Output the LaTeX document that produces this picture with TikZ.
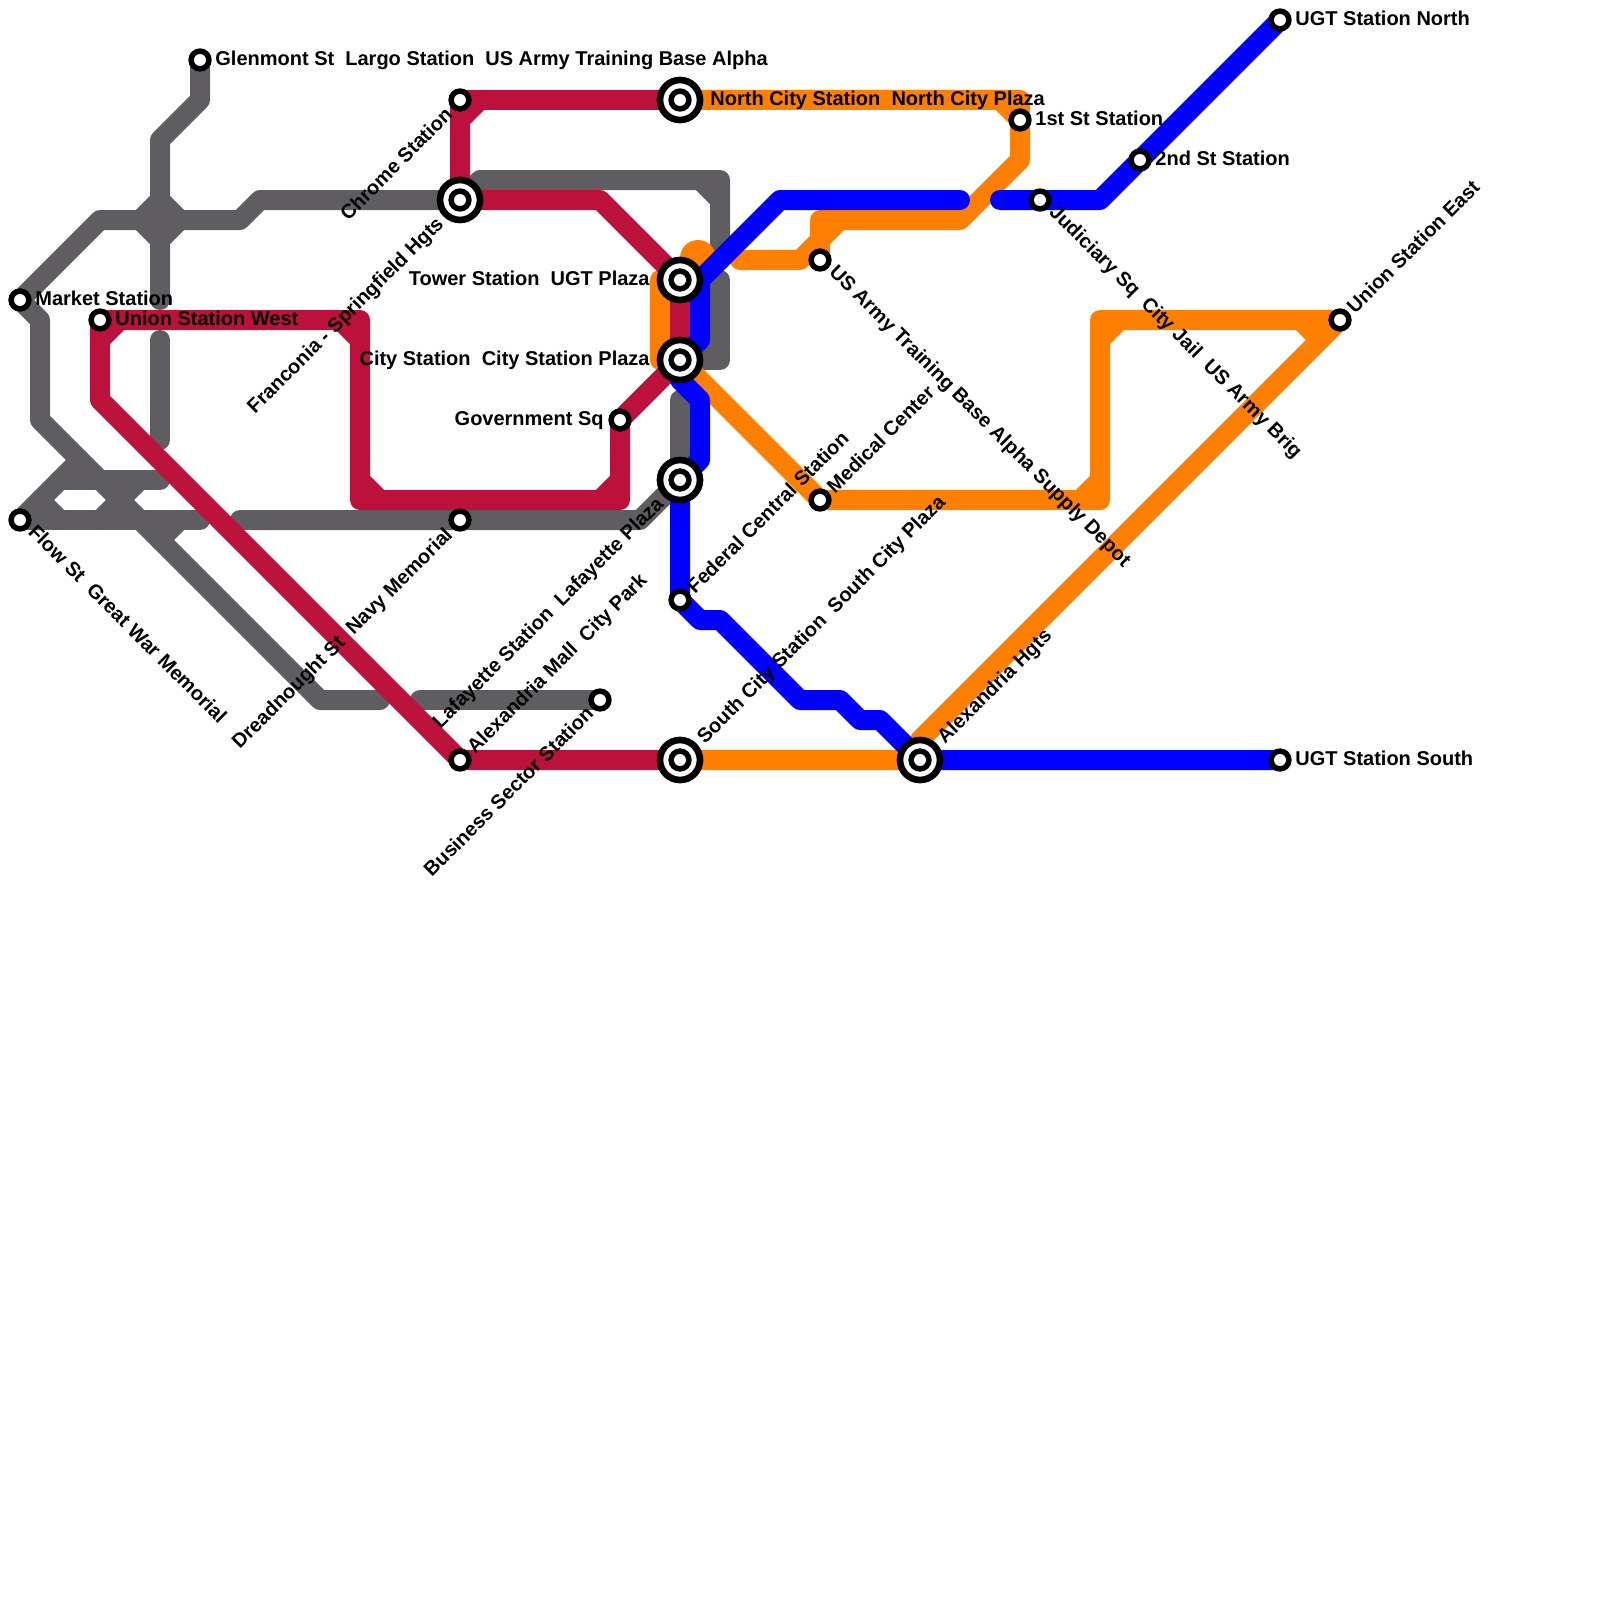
\documentclass[tikz,border=0pt]{standalone}
\usepackage{fontspec}
\setmainfont{Liberation Sans}
\usetikzlibrary{backgrounds}
\definecolor{cgray}{RGB}{95,93,98}
\definecolor{cred}{RGB}{188,17,58}
\definecolor{corange}{RGB}{255,128,0}
\definecolor{cblue}{RGB}{0,0,255}
\tikzset{
  metro/.style={line width=10pt,line cap=round,line join=round},
  grayline/.style={metro,draw=cgray},
  redline/.style={metro,draw=cred},
  orangeline/.style={metro,draw=corange},
  blueline/.style={metro,draw=cblue},
  smallst/.style={circle,draw=black,fill=white,line width=2.75pt,minimum size=8.9pt,inner sep=0pt},
  bigst/.style={circle,draw=black,fill=white,line width=3.33pt,minimum size=20pt,inner sep=0pt,
    path picture={\draw[black,line width=2.75pt,fill=white] (path picture bounding box.center) circle (4.45pt);}},
  lab/.style={inner sep=0pt,font=\fontsize{10}{11}\selectfont\bfseries,text height=6.9pt,text depth=0pt},
  labr/.style={lab,anchor=west},
  labl/.style={lab,anchor=east},
  labup/.style={lab,anchor=west,rotate=45},
  labupl/.style={lab,anchor=east,rotate=45},
  labdn/.style={lab,anchor=west,rotate=-45},
}
\begin{document}
\begin{tikzpicture}[x=0.5pt,y=-0.5pt]
\useasboundingbox (0,0) rectangle (1600,1600);
% stations
\node[smallst] (glenmont) at (200,60) {};
\node[smallst] (market) at (20,300) {};
\node[smallst] (unionw) at (100,320) {};
\node[smallst] (flow) at (20,520) {};
\node[smallst] (chrome) at (460,100) {};
\node[smallst] (navy) at (460,520) {};
\node[smallst] (gov) at (620,420) {};
\node[smallst] (federal) at (680,600) {};
\node[smallst] (citypark) at (600,700) {};
\node[smallst] (almall) at (460,760) {};
\node[smallst] (usarmy) at (820,260) {};
\node[smallst] (medical) at (820,500) {};
\node[smallst] (first) at (1020,120) {};
\node[smallst] (second) at (1140,160) {};
\node[smallst] (judiciary) at (1040,200) {};
\node[smallst] (ugtn) at (1280,20) {};
\node[smallst] (ugts) at (1280,760) {};
\node[smallst] (unione) at (1340,320) {};
\node[bigst] (northcity) at (680,100) {};
\node[bigst] (franconia) at (460,200) {};
\node[bigst] (ugtplaza) at (680,280) {};
\node[bigst] (cityplaza) at (680,360) {};
\node[bigst] (lafayette) at (680,480) {};
\node[bigst] (southcity) at (680,760) {};
\node[bigst] (alexhgts) at (920,760) {};
% labels
\node[labr] (lglenmont) at (215,59) {Glenmont St~~Largo Station~~US Army Training Base Alpha};
\node[labr] (lmarket) at (35,299) {Market Station};
\node[labr] (lunionw) at (115,319) {Union Station West};
\node[labdn] (lflow) at (32,528) {Flow St~~Great War Memorial};
\node[labupl] (lchrome) at (449,111) {Chrome Station};
\node[labupl] (lfranconia) at (440,220) {Franconia - Springfield Hgts};
\node[labl] (lugt) at (650,279) {Tower Station~~UGT Plaza};
\node[labl] (lcity) at (650,359) {City Station~~City Station Plaza};
\node[labl] (lgov) at (604,419) {Government Sq};
\node[labupl] (lnavy) at (449,531) {Dreadnought St~~Navy Memorial};
\node[labupl] (llaf) at (660,500) {Lafayette Station~~Lafayette Plaza};
\node[labup] (lfed) at (690,590) {Federal Central Station};
\node[labup] (lmed) at (830,490) {Medical Center};
\node[labdn] (lusarmy) at (833,268) {US Army Training Base Alpha Supply Depot};
\node[labdn] (ljud) at (1053,208) {Judiciary Sq~~City Jail~~US Army Brig};
\node[labr] (lfirst) at (1035,119) {1st St Station};
\node[labr] (lsecond) at (1155,159) {2nd St Station};
\node[labr] (lugtn) at (1295,19) {UGT Station North};
\node[labr] (lugts) at (1295,759) {UGT Station South};
\node[labup] (lunione) at (1350,310) {Union Station East};
\node[labr] (lnorth) at (710,99) {North City Station~~North City Plaza};
\node[labup] (lsouth) at (700,740) {South City Station~~South City Plaza};
\node[labup] (lalexh) at (940,740) {Alexandria Hgts};
\node[labup] (lalmall) at (470,750) {Alexandria Mall~~City Park};
\node[labupl] (lbiz) at (590,710) {Business Sector Station};
% lines
\begin{scope}[on background layer]
\draw[grayline] (glenmont.center) -- (200,100) -- (160,140) -- (160,300);
\draw[grayline] (160,340) -- (160,440);
\draw[grayline,fill=cgray] (140,220) -- (160,200) -- (180,220) -- (160,240) -- cycle;
\draw[grayline] (market.center) -- (100,220) -- (240,220) -- (260,200) -- (franconia.center);
\draw[grayline] (market.center) -- (40,320) -- (40,420) -- (320,700) -- (380,700);
\draw[grayline] (420,700) -- (citypark.center);
\draw[grayline] (flow.center) -- (80,460);
\draw[grayline] (60,480) -- (160,480);
\draw[grayline] (flow.center) -- (200,520);
\draw[grayline] (40,500) -- (60,520);
\draw[grayline] (100,520) -- (140,480);
\draw[grayline] (160,540) -- (180,520);
\draw[grayline] (240,520) -- (navy.center) -- (640,520) -- (lafayette.center) -- (680,400);
\draw[grayline] (franconia.center) -- (480,180) -- (720,180) -- (720,260);
\draw[grayline] (700,180) -- (720,200);
\draw[grayline] (720,280) -- (720,360) -- (cityplaza.center);
\draw[grayline] (700,360) -- (720,340);
% orange
\draw[orangeline] (northcity.center) -- (1020,100) -- (1020,160) -- (960,220) -- (820,220) -- (usarmy.center);
\draw[orangeline] (1000,100) -- (1020,120);
\draw[orangeline] (820,240) -- (840,220);
\draw[orangeline] (740,260) -- (800,260) -- (820,240);
\draw[orangeline] (ugtplaza.center) -- (660,280) -- (660,360) -- (cityplaza.center);
\fill[corange] (698,258) circle (9pt);
\draw[orangeline] (cityplaza.center) -- (medical.center) -- (1100,500) -- (1100,320) -- (unione.center) -- (920,740) -- (alexhgts.center) -- (southcity.center);
\draw[orangeline] (1080,500) -- (1100,480);
\draw[orangeline] (1100,340) -- (1120,320);
\draw[orangeline] (1300,320) -- (1320,340);
% red
\draw[redline] (chrome.center) -- (northcity.center);
\draw[redline] (chrome.center) -- (franconia.center) -- (600,200) -- (ugtplaza.center) -- (cityplaza.center) -- (gov.center) -- (620,500) -- (360,500) -- (360,320) -- (unionw.center) -- (100,400) -- (almall.center) -- (southcity.center);
\draw[redline] (460,120) -- (480,100);
\draw[redline] (620,480) -- (600,500);
\draw[redline] (380,500) -- (360,480);
\draw[redline] (360,340) -- (340,320);
\draw[redline] (120,320) -- (100,340);
% blue
\draw[blueline] (960,200) -- (780,200) -- (700,280) -- (700,340) -- (cityplaza.center) -- (680,380) -- (700,400) -- (700,460) -- (lafayette.center) -- (federal.center) -- (700,620) -- (720,620) -- (800,700) -- (840,700) -- (860,720) -- (880,720) -- (alexhgts.center) -- (ugts.center);
\draw[blueline] (ugtn.center) -- (second.center) -- (1100,200) -- (judiciary.center) -- (1000,200);
\end{scope}
\end{tikzpicture}
\end{document}
